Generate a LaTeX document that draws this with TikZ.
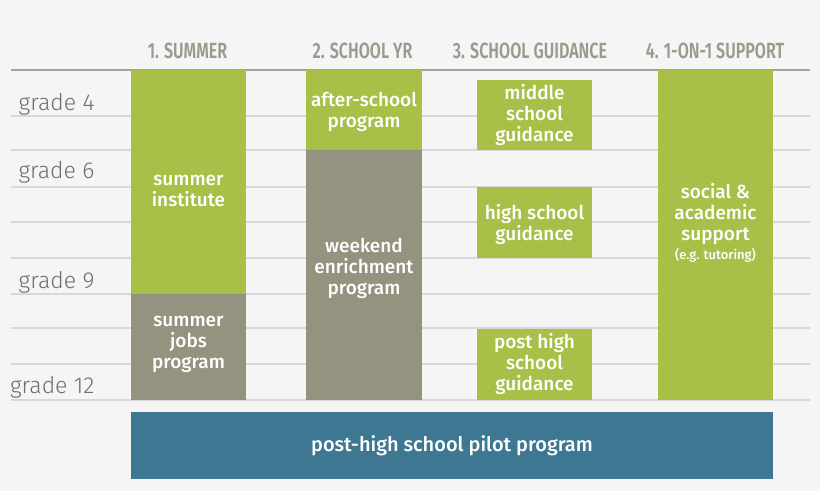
\documentclass[tikz,border=0pt]{standalone}
\usepackage{fontspec}
\setmainfont{Fira Sans}[UprightFont=* Medium]
\newfontfamily\headfont{Fira Sans}[UprightFont=* SemiBold, FakeStretch=0.73]
\newfontfamily\gradefont{Fira Sans}[UprightFont=* Light]
\definecolor{bgcol}{HTML}{F5F5F5}
\definecolor{leaf}{HTML}{A8BF48}
\definecolor{stone}{HTML}{93937F}
\definecolor{sea}{HTML}{3E7791}
\definecolor{headgray}{HTML}{9B9B8D}
\definecolor{gradegray}{HTML}{6E6E6E}
\definecolor{gridgray}{HTML}{D8D8D8}
\definecolor{rulegray}{HTML}{A4A496}
\tikzset{
  boxtext/.style={text=white, align=center, font=\fontsize{19}{21}\selectfont},
  headtext/.style={text=headgray, anchor=base, font=\headfont\fontsize{22}{22}\selectfont},
  gradetext/.style={text=gradegray, anchor=base east, font=\gradefont\fontsize{23}{23}\selectfont}
}
\begin{document}
\begin{tikzpicture}[x=1pt,y=-1pt]
\fill [bgcol] (0,0) rectangle (820,491);

% grid
\foreach \y in {116,150,187,222,258,294,328,364,400}
  \draw [gridgray, line width=1.5pt] (11,\y) -- (810,\y);
\draw [rulegray, line width=2pt] (11,70) -- (810,70);

% column headers
\node [headtext] (hsummer) at (187.5,58) {1. SUMMER};
\node [headtext] (hyear) at (362.5,58) {2. SCHOOL YR};
\node [headtext] (hguide) at (530,58) {3. SCHOOL GUIDANCE};
\node [headtext] (hsupport) at (715,58) {4. 1-ON-1 SUPPORT};

% grades
\node [gradetext] (g4) at (98,110) {grade 4};
\node [gradetext] (g6) at (98,178) {grade 6};
\node [gradetext] (g9) at (98,288) {grade 9};
\node [gradetext] (g12) at (98,393) {grade 12};

% boxes
\fill [leaf] (131,70) rectangle (246,294);
\fill [stone] (131,294) rectangle (246,400);
\fill [leaf] (306,70) rectangle (422,150);
\fill [stone] (306,150) rectangle (422,400);
\fill [leaf] (477,80) rectangle (592,150);
\fill [leaf] (477,187) rectangle (592,258);
\fill [leaf] (477,329) rectangle (592,400);
\fill [leaf] (658,70) rectangle (773,400);
\fill [sea] (131,412) rectangle (773,479);

\node [boxtext] (inst) at (188.5,191) {summer\\institute};
\node [boxtext] (jobs) at (188.5,344) {summer\\jobs\\program};
\node [boxtext] (after) at (364,112) {after-school\\program};
\node [boxtext] (weekend) at (364,268) {weekend\\enrichment\\program};
\node [boxtext] (middle) at (534.5,115) {middle\\school\\guidance};
\node [boxtext] (high) at (534.5,224) {high school\\guidance};
\node [boxtext] (post) at (534.5,364) {post high\\school\\guidance};
\node [boxtext] (social) at (715.5,214) {social \&\\academic\\support};
\node [boxtext, font=\fontsize{13}{13}\selectfont] (tutor) at (715.5,255) {(e.g. tutoring)};
\node [boxtext, font=\fontsize{20}{21}\selectfont] (pilot) at (452,446) {post-high school pilot program};
\end{tikzpicture}
\end{document}
